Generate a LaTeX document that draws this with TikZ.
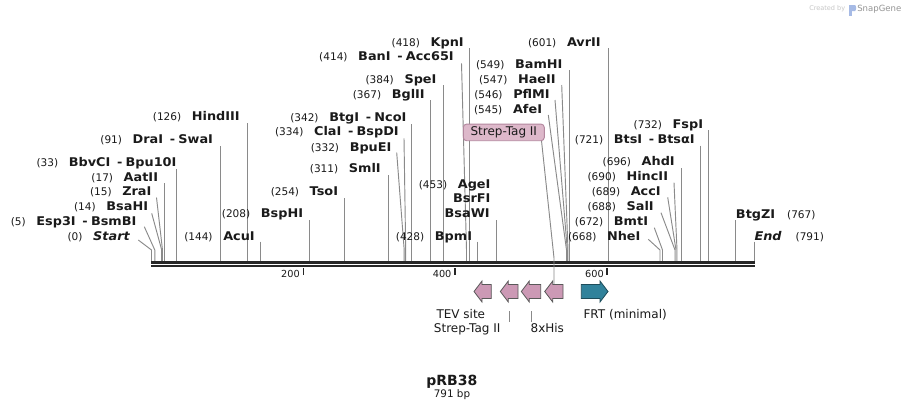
\documentclass[tikz,border=0pt]{standalone}
\usepackage{fontspec}
\setmainfont{DejaVu Sans}
\newfontfamily\enzfont{DejaVu Sans}[FakeStretch=1.07]
\definecolor{cutc}{HTML}{8A8A8A}
\definecolor{seqc}{HTML}{262626}
\definecolor{featpink}{HTML}{CC99B5}
\definecolor{featedge}{HTML}{595959}
\definecolor{frtc}{HTML}{31829B}
\definecolor{frtedge}{HTML}{1E4C5A}
\definecolor{boxfill}{HTML}{DDB8CA}
\definecolor{boxedge}{HTML}{B3879E}
\definecolor{txtc}{HTML}{1A1A1A}
\newcommand{\numf}{\normalfont\fontsize{7.9}{9}\selectfont}
\newcommand{\dsep}{\hspace{5pt}-\hspace{2.5pt}}
\newcommand{\enz}[5]{\node[enzr] (#1) at (#2,#3) {{\numf(#4)}\hspace{8pt}#5};}
\newcommand{\vcut}[2]{\draw[cut] (#1,#2) -- (#1,261);}
\newcommand{\scut}[3]{\draw[cut] (#1,#2) -- (#3,250) -- (#3,261);}
\newcommand{\larr}[2]{\draw[feat] (#1,291.5) -- ({#1+8},281) -- ({#1+8},284.5) -- (#2,284.5) -- (#2,298.5) -- ({#1+8},298.5) -- ({#1+8},302) -- cycle;}
\tikzset{
  enzr/.style={anchor=base east, inner sep=0pt, text=txtc, font=\enzfont\fontsize{9}{10}\selectfont\bfseries},
  enzl/.style={anchor=base west, inner sep=0pt, text=txtc, font=\enzfont\fontsize{9}{10}\selectfont\bfseries},
  cut/.style={draw=cutc, line width=0.7pt},
  seq/.style={draw=seqc, line width=1.9pt},
  tickm/.style={draw=seqc, line width=1.1pt},
  ticklab/.style={anchor=base east, inner sep=0pt, text=txtc, font=\fontsize{7.3}{8}\selectfont},
  feat/.style={fill=featpink, draw=featedge, line width=0.6pt, line join=miter},
  frt/.style={fill=frtc, draw=frtedge, line width=0.6pt, line join=miter},
  featlab/.style={anchor=base, inner sep=0pt, text=txtc, font=\fontsize{9}{10}\selectfont},
}
\begin{document}
\begin{tikzpicture}[x=0.75pt, y=-0.75pt]
\fill[white] (0,0) rectangle (906,411);
\path[use as bounding box] (0,0) rectangle (906,411);

% watermark
\node[anchor=base west, inner sep=0pt, text=black!22, font=\fontsize{4.9}{5}\selectfont] (cby) at (809,10.5) {Created by};
\fill[cyan!45!blue!35] (849,5) rectangle (851.5,16);
\fill[cyan!45!blue!35] (849,5) -- (855,5) .. controls (856.5,5) and (856.5,11) .. (855,11) -- (849,11) -- cycle;
\node[anchor=base west, inner sep=0pt, text=black!42, font=\fontsize{6.4}{7}\selectfont] (sg) at (857,11) {SnapGene};

% cut lines
\draw[cut] (138.3,240) -- (151.5,250) -- (151.5,261);
\scut{144.3}{226.7}{154.8}
\scut{151.7}{213.3}{161.7}
\scut{156.5}{197.5}{162.5}
\vcut{164}{183.3}
\vcut{176.2}{169.3}
\vcut{220.4}{146}
\vcut{247.1}{123.3}
\vcut{260.8}{241.7}
\vcut{309.6}{220}
\vcut{344.7}{198.3}
\vcut{388.3}{175}
\scut{396.7}{152.7}{404.2}
\scut{404}{138.3}{405.7}
\vcut{411.8}{124}
\vcut{430.8}{100}
\vcut{443.5}{85}
\scut{461.5}{63.3}{466.5}
\vcut{469.3}{48.3}
\vcut{477.4}{241.7}
\vcut{496.5}{220}
\scut{548.3}{115}{566.5}
\scut{555}{100}{567.3}
\scut{561.7}{85}{568}
\vcut{569.5}{70}
\vcut{608.5}{48.3}
\scut{648.3}{239.3}{660}
\scut{654.3}{227.7}{662.5}
\scut{661}{212.7}{675}
\scut{667.7}{197.3}{676}
\scut{674}{182.7}{677}
\vcut{681.7}{168.3}
\vcut{700.8}{145.7}
\vcut{708.5}{130}
\vcut{735.7}{220}
\vcut{754.3}{241.7}

% enzyme labels
\enz{eStart}{130}{240.7}{0}{\itshape Start}
\enz{eEsp}{136.7}{225.7}{5}{Esp3I\dsep BsmBI}
\enz{eBsaHI}{148.3}{210.7}{14}{BsaHI}
\enz{eZra}{151.7}{195.7}{15}{ZraI}
\enz{eAat}{158.3}{181.7}{17}{AatII}
\enz{eBbv}{176.7}{166.3}{33}{BbvCI\dsep Bpu10I}
\enz{eDra}{213.3}{143.3}{91}{DraI\dsep SwaI}
\enz{eHind}{240}{120.7}{126}{HindIII}
\enz{eAcu}{255}{240.7}{144}{AcuI}
\enz{eBspHI}{303.3}{217.3}{208}{BspHI}
\enz{eTso}{338.3}{195.7}{254}{TsoI}
\enz{eSml}{381}{172.3}{311}{SmlI}
\enz{eBpuEI}{391.7}{151.3}{332}{BpuEI}
\enz{eCla}{399}{135.7}{334}{ClaI\dsep BspDI}
\enz{eBtg}{406.7}{121.3}{342}{BtgI\dsep NcoI}
\enz{eBgl}{425}{98}{367}{BglII}
\enz{eSpe}{436.7}{83.3}{384}{SpeI}
\enz{eBan}{454}{60.7}{414}{BanI\dsep Acc65I}
\enz{eKpn}{464}{46.3}{418}{KpnI}
\enz{eBpm}{472.3}{240.7}{428}{BpmI}
\enz{eAge}{490.7}{188}{453}{AgeI}
\node[enzr] (eBsrF) at (490.7,202.3) {BsrFI};
\node[enzr] (eBsaW) at (490,217.3) {BsaWI};
\enz{eAfe}{542.3}{113}{545}{AfeI}
\enz{ePfl}{550}{98}{546}{PflMI}
\enz{eHae}{556}{83}{547}{HaeII}
\enz{eBam}{562.7}{68}{549}{BamHI}
\enz{eAvr}{601}{46.3}{601}{AvrII}
\enz{eNhe}{640.7}{240.7}{668}{NheI}
\enz{eBmt}{648.3}{225.7}{672}{BmtI}
\enz{eSal}{654}{210.7}{688}{SalI}
\enz{eAcc}{661}{195.7}{689}{AccI}
\enz{eHinc}{668.3}{180.7}{690}{HincII}
\enz{eAhd}{675}{165.7}{696}{AhdI}
\enz{eBts}{695}{143}{721}{BtsI\dsep BtsαI}
\enz{eFsp}{703.3}{128}{732}{FspI}
\node[enzl] (eBtgZ) at (735.7,218) {BtgZI\hspace{9pt}{\numf(767)}};
\node[enzl] (eEnd) at (754.3,240.7) {{\itshape End}\hspace{10.5pt}{\numf(791)}};

% sequence
\draw[seq] (151,262.3) -- (754.6,262.3);
\draw[seq] (151,266.2) -- (754.6,266.2);
\draw[tickm] (303.3,268) -- (303.3,275);
\draw[tickm] (455,268) -- (455,275);
\draw[tickm] (607,268) -- (607,275);
\node[ticklab] (t200) at (300,277.5) {200};
\node[ticklab] (t400) at (451.7,277.5) {400};
\node[ticklab] (t600) at (604,277.5) {600};

% Strep-Tag II callout
\draw[cut] (541.5,140.7) -- (554,258) -- (554,284.5);
\node[draw=boxedge, fill=boxfill, rounded corners=2.5pt, line width=0.7pt, minimum width=60.75pt, minimum height=12.5pt, inner sep=0pt, text=txtc, font=\fontsize{9}{10}\selectfont] (stbox) at (503.8,132.4) {Strep-Tag II};

% features
\larr{474}{491.3}
\larr{500.3}{518}
\larr{521.3}{540.7}
\larr{544.7}{563}
\draw[frt] (581.3,284.5) -- (600,284.5) -- (600,281) -- (608,291.5) -- (600,302) -- (600,298.5) -- (581.3,298.5) -- cycle;

\node[featlab] (fTEV) at (460.8,318.3) {TEV site};
\node[featlab] (fST) at (467.2,332.7) {Strep-Tag II};
\node[featlab] (fHis) at (547.3,332.7) {8xHis};
\node[featlab, anchor=base west] (fFRT) at (583.3,318.3) {FRT (minimal)};
\draw[cut] (509.3,311) -- (509.3,321.7);
\draw[cut] (531.7,311) -- (531.7,321.7);

% title
\node[anchor=base, inner sep=0pt, text=txtc, font=\fontsize{10.5}{12}\selectfont\bfseries] (title) at (451.8,385) {pRB38};
\node[anchor=base, inner sep=0pt, text=txtc, font=\fontsize{7.8}{9}\selectfont] (bp) at (452,397.3) {791 bp};
\end{tikzpicture}
\end{document}
